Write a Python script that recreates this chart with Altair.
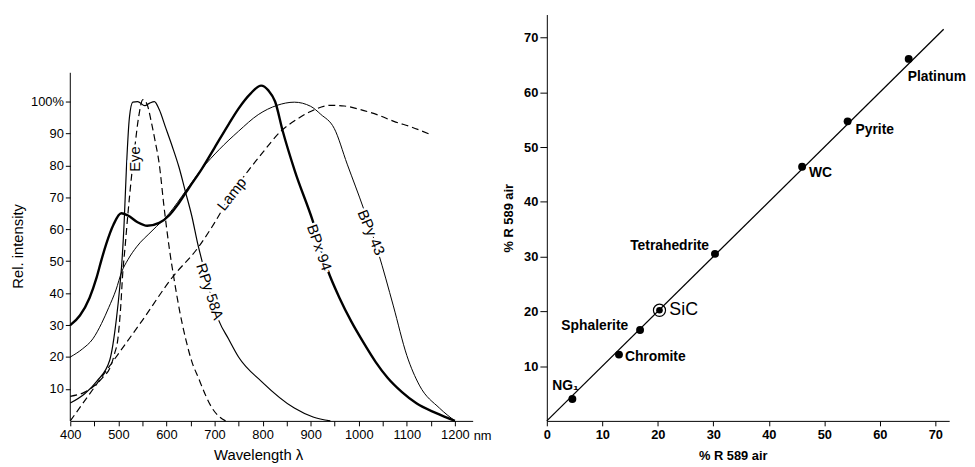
import altair as alt
import pandas as pd

FONT = "Liberation Sans"

# ---------------- left panel: relative intensity curves ----------------
bpx94_nm = [400, 420, 440, 455, 465, 475, 490, 506, 520, 540, 560, 585, 606, 625, 647, 674, 700, 729, 750, 775,
            797, 812, 826, 842, 867, 904, 935, 960, 985, 1010, 1035, 1060, 1090, 1120, 1160, 1200]
bpx94_val = [30, 33, 38.5, 45, 50.5, 55.5, 61.5, 65, 64.3, 62.2, 61.1, 62, 64.4, 68, 73, 79, 85.5, 92.8, 97.8, 102.5,
             105, 103.5, 100, 90.7, 78.3, 62.8, 47.4, 38.5, 31, 24.5, 18.5, 13.5, 9, 5.5, 2.5, 0]

bpy43_nm = [400, 425, 447, 465, 480, 495, 507, 520, 538, 570, 606, 640, 674, 710, 750, 791, 830, 866, 900, 921,
            949, 976, 1010, 1041, 1072, 1100, 1126, 1168, 1200]
bpy43_val = [20, 22.5, 25.7, 30.5, 35.5, 41, 46.7, 50.5, 54.5, 59.5, 65, 72, 79, 85, 90.7, 95.9, 98.8, 99.8, 98.5, 96,
             91.6, 80.4, 66.5, 52.5, 36, 20.5, 11.2, 4, 0]

rpy58a_nm = [400, 430, 455, 482, 496, 503, 507, 512, 517, 523, 530, 540, 555, 565, 575, 585, 598, 612, 626, 640,
             653, 665, 675, 690, 709, 729, 750, 798, 866, 905, 941]
rpy58a_val = [5.6, 8.5, 12.4, 19, 32, 42, 49, 62, 80, 95, 99.8, 100, 98.7, 99.5, 100, 97.5, 92, 86, 79.5, 71.5,
              64, 55.5, 49.5, 40.5, 31.4, 25.7, 20, 12.3, 4, 1.2, 0]

eye_nm = [400, 430, 450, 470, 482, 492, 499, 505, 509, 514, 520, 527, 534, 542, 551, 560, 568, 576, 585, 595,
          606, 616, 628, 640, 653, 667, 680, 695, 710, 723]
eye_val = [7.7, 9, 11, 14, 16.4, 21, 25.7, 36, 46, 54.5, 65, 76, 85.4, 95, 100.6, 99, 94, 88, 80.5, 67,
           54, 44.3, 34, 25.7, 18.5, 13.3, 8.5, 4, 1.3, 0]

lamp_nm = [400, 450, 500, 550, 612, 667, 700, 735, 770, 800, 838, 870, 900, 941, 970, 1003, 1040, 1073, 1110, 1147]
lamp_val = [0, 10.5, 21, 31.5, 44.9, 54.5, 62, 71, 78.3, 84, 90.7, 94.3, 96.9, 98.8, 98.6, 97.5, 95.8, 93.8, 92, 89.8]

curve_labels = ["Eye", "Lamp", "RPy 58A", "BPx 94", "BPy 43"]
curve_label_nm = [535, 736, 690, 918, 1026]
curve_label_val = [82, 71, 40.5, 54.3, 59]

x_ticks_left = list(range(400, 1201, 50))
y_ticks_left = list(range(10, 101, 10))

# ---------------- right panel: reflectance comparison ----------------
minerals = ["NG₁", "Chromite", "Sphalerite", "SiC", "Tetrahedrite", "WC", "Pyrite", "Platinum"]
r_x = [4.6, 13.0, 16.8, 20.3, 30.3, 46.0, 54.2, 65.2]
r_y = [4.0, 12.1, 16.6, 20.2, 30.5, 46.4, 54.7, 66.1]
fit_x = [0, 71.5]
fit_y = [0, 71.5]
x_ticks_right = list(range(0, 71, 10))
y_ticks_right = list(range(10, 71, 10))

# ---------------- styles ----------------
curve_styles = {
    "BPx94": dict(strokeWidth=2.4),
    "BPy43": dict(strokeWidth=1.0),
    "RPy58A": dict(strokeWidth=1.2),
    "Eye": dict(strokeWidth=1.2, strokeDash=[7, 4]),
    "Lamp": dict(strokeWidth=1.2, strokeDash=[7, 4]),
}
label_angles = {"Eye": 270, "Lamp": 308, "RPy 58A": 72, "BPx 94": 71, "BPy 43": 67}
mineral_label_style = {
    "NG₁": dict(dx=-7, dy=-13, align="center"),
    "Chromite": dict(dx=6, dy=2, align="left"),
    "Sphalerite": dict(dx=-12, dy=-4, align="right"),
    "SiC": dict(dx=10, dy=0, align="left", fontSize=18, fontWeight="normal"),
    "Tetrahedrite": dict(dx=-6, dy=-8, align="right"),
    "WC": dict(dx=7, dy=6, align="left"),
    "Pyrite": dict(dx=8, dy=9, align="left"),
    "Platinum": dict(dx=-1, dy=18, align="left"),
}

# ---------------- left chart ----------------
XL = alt.X("nm:Q", scale=alt.Scale(domain=[400, 1237], nice=False, zero=False),
           axis=alt.Axis(values=x_ticks_left, format="d",
                         labelExpr="datum.value % 100 == 0 ? datum.label : ''",
                         title="Wavelength  λ", titleX=190, titlePadding=6,
                         tickSize=5, labelPadding=3, labelFlush=False, labelOverlap=False,
                         labelFontSize=13, titleFontSize=15, titleFontWeight="normal"))
YL = alt.Y("val:Q", scale=alt.Scale(domain=[0, 127.24], nice=False),
           axis=alt.Axis(values=y_ticks_left,
                         labelExpr="datum.value == 100 ? '100%' : datum.label",
                         title="Rel. intensity", titleY=234, domain=False,
                         tickSize=5, labelPadding=2, titlePadding=5, labelOverlap=False,
                         labelFontSize=13, titleFontSize=15, titleFontWeight="normal"))


def curve(name, nm, val):
    df = pd.DataFrame({"nm": nm, "val": val, "i": range(len(nm))})
    return alt.Chart(df).mark_line(color="black", interpolate="monotone",
                                   **curve_styles[name]).encode(x=XL, y=YL, order="i:Q")


curves = [
    curve("Lamp", lamp_nm, lamp_val),
    curve("Eye", eye_nm, eye_val),
    curve("RPy58A", rpy58a_nm, rpy58a_val),
    curve("BPy43", bpy43_nm, bpy43_val),
    curve("BPx94", bpx94_nm, bpx94_val),
]

lab_df = pd.DataFrame({"nm": curve_label_nm, "val": curve_label_val, "text": curve_labels})
label_layers = []
for t in curve_labels:
    base = alt.Chart(lab_df).transform_filter(alt.datum.text == t)
    label_layers.append(base.mark_text(font=FONT, fontSize=15, angle=label_angles[t], baseline="middle",
                                       color="white", stroke="white", strokeWidth=5)
                        .encode(x=XL, y=YL, text="text:N"))
    label_layers.append(base.mark_text(font=FONT, fontSize=15, angle=label_angles[t], baseline="middle",
                                       color="black")
                        .encode(x=XL, y=YL, text="text:N"))

y_axis_line = alt.Chart(pd.DataFrame({"nm": [400], "v0": [0], "v1": [109]})).mark_rule(
    color="black", strokeWidth=1).encode(x=XL, y=alt.Y("v0:Q", scale=alt.Scale(domain=[0, 127.24], nice=False)), y2="v1:Q")

nm_text = alt.Chart(pd.DataFrame({"nm": [1200], "val": [0], "t": ["nm"]})).mark_text(
    font=FONT, fontSize=13, align="left", baseline="top", dx=19, dy=9, color="black").encode(
    x=XL, y=YL, text="t:N")

left = alt.layer(*curves, *label_layers, y_axis_line, nm_text).properties(width=407, height=411)

# ---------------- right chart ----------------
XR = alt.X("rx:Q", scale=alt.Scale(domain=[0, 72.5], nice=False),
           axis=alt.Axis(values=x_ticks_right, title="% R 589 air", titleX=188, titlePadding=8,
                         tickSize=5, labelPadding=3, labelFlush=False, labelOverlap=False,
                         labelFontSize=13, labelFontWeight="bold", titleFontSize=13, titleFontWeight="bold"))
YR = alt.Y("ry:Q", scale=alt.Scale(domain=[0, 74.2], nice=False),
           axis=alt.Axis(values=y_ticks_right, title="% R 589 air", titlePadding=8,
                         tickSize=7, labelPadding=2, labelOverlap=False,
                         labelFontSize=13, labelFontWeight="bold", titleFontSize=13, titleFontWeight="bold"))

pts_df = pd.DataFrame({"rx": r_x, "ry": r_y, "name": minerals})
fit_df = pd.DataFrame({"rx": fit_x, "ry": fit_y})

fit_line = alt.Chart(fit_df).mark_line(color="black", strokeWidth=1.3).encode(x=XR, y=YR)
dots = alt.Chart(pts_df).transform_filter(alt.datum.name != "SiC").mark_point(
    shape="circle", filled=True, color="black", size=64, opacity=1).encode(x=XR, y=YR)
sic_ring = alt.Chart(pts_df).transform_filter(alt.datum.name == "SiC").mark_point(
    shape="circle", filled=False, color="black", size=150, strokeWidth=1.2, opacity=1).encode(x=XR, y=YR)
sic_dot = alt.Chart(pts_df).transform_filter(alt.datum.name == "SiC").mark_point(
    shape="circle", filled=True, color="black", size=45, opacity=1).encode(x=XR, y=YR)

mineral_labels = []
for m in minerals:
    st = dict(fontSize=14, fontWeight="bold")
    st.update(mineral_label_style[m])
    mineral_labels.append(
        alt.Chart(pts_df).transform_filter(alt.datum.name == m).mark_text(
            font=FONT, baseline="middle", color="black", **st).encode(x=XR, y=YR, text="name:N"))

right = alt.layer(fit_line, dots, sic_ring, sic_dot, *mineral_labels).properties(width=407, height=411)

chart = alt.hconcat(left, right, spacing=10).properties(
    padding={"left": 2, "top": 4, "right": 0, "bottom": 0}
).configure_view(stroke=None).configure_axis(
    labelFont=FONT, titleFont=FONT, labelColor="black", titleColor="black",
    domainColor="black", tickColor="black", grid=False
).configure_text(font=FONT)

chart.save("out.html", embed_options={"renderer": "svg", "actions": False})
